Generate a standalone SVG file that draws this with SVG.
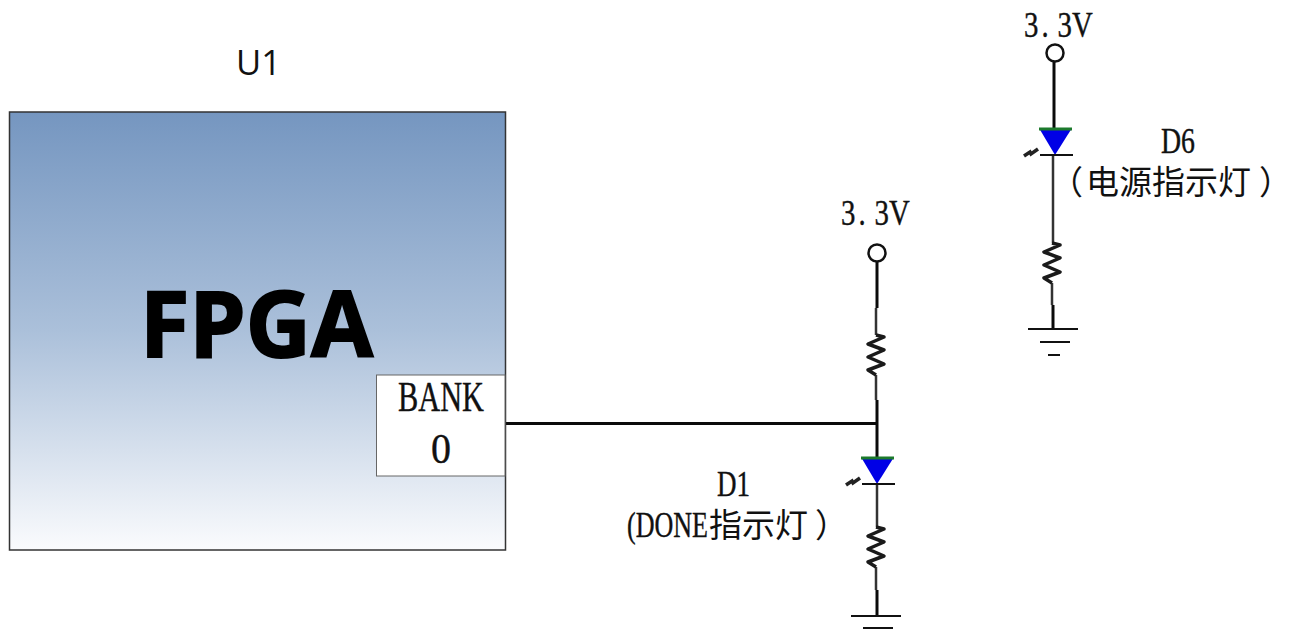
<svg xmlns="http://www.w3.org/2000/svg" width="1291" height="639" viewBox="0 0 1291 639">
<style>
.s{font-family:"Liberation Serif","Noto Sans CJK SC",serif;fill:#111;stroke:#111;stroke-width:.4}
.c{font-family:"Noto Sans CJK SC","Liberation Serif",serif;fill:#111;font-size:33px}
.w{fill:none;stroke:#0a0a0a;stroke-width:3}
.g{fill:none;stroke:#333;stroke-width:2.5}
.r{fill:none;stroke:#1a1a1a;stroke-width:3.500;stroke-linejoin:round}
.t{fill:none;stroke:#111;stroke-width:2}
.p{fill:none;stroke:#222;stroke-width:3.500}
</style>
<defs>
<linearGradient id="fg" x1="0" y1="0" x2="0" y2="1">
<stop offset="0" stop-color="#7596c0"/><stop offset=".5" stop-color="#abc0da"/><stop offset="1" stop-color="#fafbfd"/>
</linearGradient>
<g id="led">
<path d="M-16 0H17L0 27Z" fill="#0000e6"/>
<path d="M-16 1H17" stroke="#1c7a2c" stroke-width="3" fill="none"/>
<path d="M-15 27H18" class="t"/>
<path d="M-31 28L-25 24L-24 26L-17 21" class="p"/>
</g>
<path id="zig" d="M0 0L8 2L-8 9L8 15L-8 22L8 29L-8 35L0 40"/>
</defs>
<rect width="1291" height="639" fill="#fff"/>
<g id="connectors">
<path class="w" d="M505 423.500H878"/>
<path class="w" d="M877 262V308"/>
<path class="g" d="M876 308V335"/>
<path class="g" d="M876 375V400"/>
<path class="w" d="M877 400V457"/>
<path class="g" d="M877 484V527"/>
<path class="g" d="M876 567V590"/>
<path class="w" d="M877 590V616"/>
<path class="w" d="M1054 62V128"/>
<path class="g" d="M1053 155V243"/>
<path class="g" d="M1052 283V305"/>
<path class="w" d="M1053 305V329"/>
</g>
<g id="u1">
<text x="236" y="75" style="font-family:'Open Sans','Noto Sans',sans-serif;font-size:35px;fill:#111" textLength="45" lengthAdjust="spacingAndGlyphs">U1</text>
<rect x="9.500" y="112" width="496" height="438" fill="url(#fg)" stroke="#333" stroke-width="1.500"/>
<text x="140" y="357" stroke="#000" stroke-width="2" style="font-family:'Open Sans','Noto Sans',sans-serif;font-size:91px;font-weight:700;fill:#000" textLength="233" lengthAdjust="spacingAndGlyphs">FPGA</text>
</g>
<g id="bank0">
<rect x="376.500" y="375" width="128.500" height="101" fill="#fff" stroke="#666" stroke-width="1"/>
<text class="s" x="398" y="411" font-size="43" textLength="86" lengthAdjust="spacingAndGlyphs">BANK</text>
<text class="s" x="431" y="463" font-size="43" textLength="20" lengthAdjust="spacingAndGlyphs">0</text>
</g>
<g id="vcc-left">
<circle cx="877" cy="253" r="8.500" fill="#fff" stroke="#111" stroke-width="2.500"/>
<text class="s" transform="translate(841 225) scale(.8 1)" x="0 22 42 60" y="0" font-size="36">3.3V</text>
</g>
<g id="r-left"><use href="#zig" x="876" y="335" class="r"/></g>
<g id="d1">
<use href="#led" x="877" y="457"/>
<text class="s" x="717" y="496" font-size="36" textLength="33" lengthAdjust="spacingAndGlyphs">D1</text>
<text class="c" y="537"><tspan x="627" class="s" font-size="36" textLength="81" lengthAdjust="spacingAndGlyphs">(DONE</tspan><tspan x="709">指示灯</tspan><tspan x="815">）</tspan></text>
</g>
<g id="r-left-2"><use href="#zig" x="876" y="527" class="r"/></g>
<g id="gnd-left">
<path class="t" d="M851 616H901M863 628H893"/>
</g>
<g id="vcc-right">
<circle cx="1055" cy="53" r="8.500" fill="#fff" stroke="#111" stroke-width="2.500"/>
<text class="s" transform="translate(1024 37) scale(.8 1)" x="0 22 42 60" y="0" font-size="36">3.3V</text>
</g>
<g id="d6">
<use href="#led" x="1055" y="128"/>
<text class="s" x="1161" y="153" font-size="36" textLength="34" lengthAdjust="spacingAndGlyphs">D6</text>
<text class="c" y="194"><tspan x="1050">（</tspan><tspan x="1086">电源指示灯</tspan><tspan x="1259">）</tspan></text>
</g>
<g id="r-right"><use href="#zig" x="1052" y="243" class="r"/></g>
<g id="gnd-right">
<path class="t" d="M1028 329H1078M1040 342H1070M1048 355H1060"/>
</g>
</svg>
